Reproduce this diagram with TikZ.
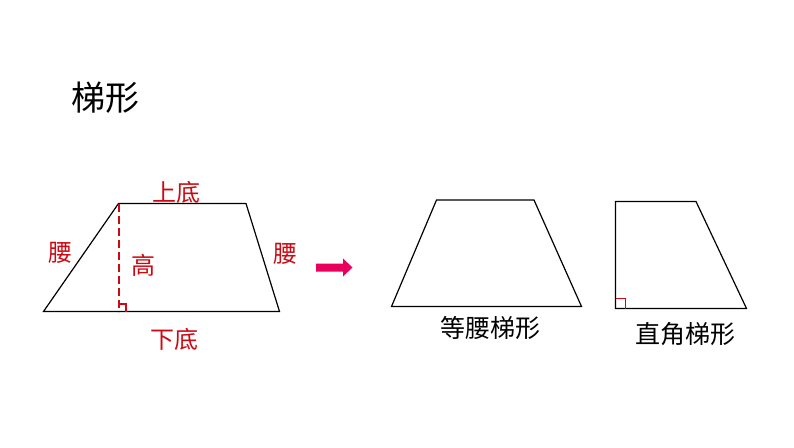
\documentclass[tikz,border=0pt]{standalone}
\usepackage{fontspec}
\newfontfamily\cjk{Noto Sans CJK SC}
\definecolor{lblred}{RGB}{205,10,20}
\definecolor{arrowpink}{RGB}{232,0,92}
\begin{document}
\begin{tikzpicture}[x=1pt,y=-1pt,
  edge/.style={draw=black,line width=1.2pt,line join=miter},
  redlbl/.style={text=lblred,font=\cjk\fontsize{24}{24}\selectfont,inner sep=0pt},
  blklbl/.style={text=black,font=\cjk\fontsize{25}{25}\selectfont,inner sep=0pt},
  ]
\useasboundingbox (0,0) rectangle (794,447);
% title
\node[font=\cjk\fontsize{34}{34}\selectfont,inner sep=0pt] (title) at (105,98) {梯形};
% main trapezoid
\coordinate (A) at (43.5,311.5);
\coordinate (B) at (279.5,311.5);
\coordinate (C) at (246,203.5);
\coordinate (D) at (118.5,203.5);
\coordinate (H) at (118.5,311.5);
\draw[edge] (A) -- (B) -- (C) -- (D) -- cycle;
\draw[lblred,line width=2pt,dash pattern=on 8pt off 4pt] (D) -- (H);
\draw[lblred,line width=1.5pt] (118.5,304) -- (126,304) -- (126,311.5);
\node[redlbl] (top) at (176,192) {上底};
\node[redlbl] (legL) at (60,253) {腰};
\node[redlbl] (ht) at (143,265) {高};
\node[redlbl] (legR) at (285,254) {腰};
\node[redlbl] (bot) at (174,339) {下底};
% arrow
\fill[arrowpink] (316,263.5) -- (343,263.5) -- (343,258.5) -- (352.5,267.5) -- (343,276.5) -- (343,271.5) -- (316,271.5) -- cycle;
% isosceles trapezoid
\coordinate (P1) at (391.5,306.5);
\coordinate (P2) at (581.5,306.5);
\coordinate (P3) at (534,200);
\coordinate (P4) at (436.5,200);
\draw[edge] (P1) -- (P2) -- (P3) -- (P4) -- cycle;
\node[blklbl] (iso) at (490,328) {等腰梯形};
% right trapezoid
\coordinate (Q1) at (615.5,308.5);
\coordinate (Q2) at (746.5,308.5);
\coordinate (Q3) at (696,201.5);
\coordinate (Q4) at (615.5,201.5);
\draw[edge] (Q1) -- (Q2) -- (Q3) -- (Q4) -- cycle;
\draw[lblred,line width=1pt] (615.5,298.5) -- (625.5,298.5) -- (625.5,308.5);
\node[blklbl] (rt) at (685,334) {直角梯形};
\end{tikzpicture}
\end{document}
